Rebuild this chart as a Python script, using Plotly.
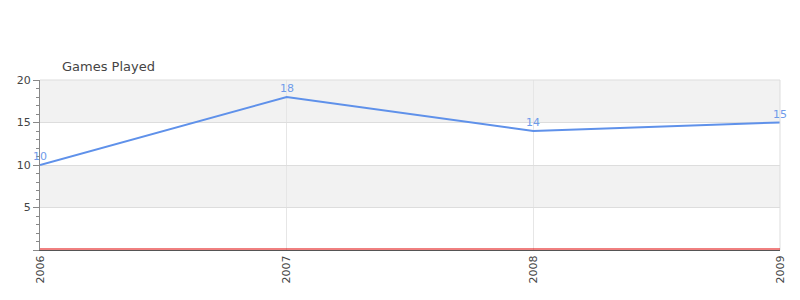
import plotly.graph_objects as go

years = [2006, 2007, 2008, 2009]
year_labels = ["2006", "2007", "2008", "2009"]
games_played = [10, 18, 14, 15]
y_tick_vals = [0, 5, 10, 15, 20]
y_tick_text = ["", "5", "10", "15", "20"]

fig = go.Figure()
fig.add_trace(go.Scatter(
    x=years, y=games_played, mode="lines",
    line=dict(color="#5f91ea", width=2), cliponaxis=False,
    hoverinfo="skip", showlegend=False,
))

for x, v in zip(years, games_played):
    fig.add_annotation(x=x, y=v, text=str(v), showarrow=False,
                       xanchor="center", yanchor="bottom", yshift=0,
                       font=dict(family="DejaVu Sans", size=11, color="#6f9bea"))

# alternating bands
for y0, y1 in [(15, 20), (5, 10)]:
    fig.add_shape(type="rect", xref="paper", yref="y", x0=0, x1=1, y0=y0, y1=y1,
                  fillcolor="#f2f2f2", line=dict(width=0), layer="below")
# plot border (top & right)
fig.add_shape(type="line", xref="paper", yref="paper", x0=0, x1=1, y0=1, y1=1,
              line=dict(color="#dddddd", width=1))
fig.add_shape(type="line", xref="paper", yref="paper", x0=1, x1=1, y0=0, y1=1,
              line=dict(color="#dddddd", width=1))
# thin red line just above the dark axis line
fig.add_shape(type="line", xref="paper", yref="y", ysizemode="pixel", yanchor=0,
              x0=0, x1=1, y0=1, y1=1, line=dict(color="#e00000", width=1))

fig.update_layout(
    width=800, height=300,
    margin=dict(l=40, r=20, t=80, b=50),
    paper_bgcolor="white", plot_bgcolor="white",
    font=dict(family="DejaVu Sans", size=11, color="#444444"),
    title=dict(text="Games Played", x=62/800, xanchor="left", xref="container",
               y=1 - 66/300, yanchor="middle", yref="container",
               font=dict(family="DejaVu Sans", size=13, color="#444444")),
    xaxis=dict(range=[2006, 2009], tickvals=years, ticktext=year_labels,
               tickangle=-90, showgrid=True, gridcolor="#e6e6e6", gridwidth=1,
               ticks="", showline=True, linecolor="#555555", linewidth=1,
               zeroline=False, tickfont=dict(size=11, color="#444444")),
    yaxis=dict(range=[0, 20], tickvals=y_tick_vals, ticktext=y_tick_text,
               showgrid=True, gridcolor="#dddddd", gridwidth=1,
               ticks="outside", ticklen=6, tickcolor="#888888",
               showline=True, linecolor="#888888", linewidth=1,
               zeroline=False,
               minor=dict(dtick=1, ticks="outside", ticklen=3, tickcolor="#888888",
                          showgrid=False),
               tickfont=dict(size=11, color="#444444")),
)

fig.write_html("out.html")
